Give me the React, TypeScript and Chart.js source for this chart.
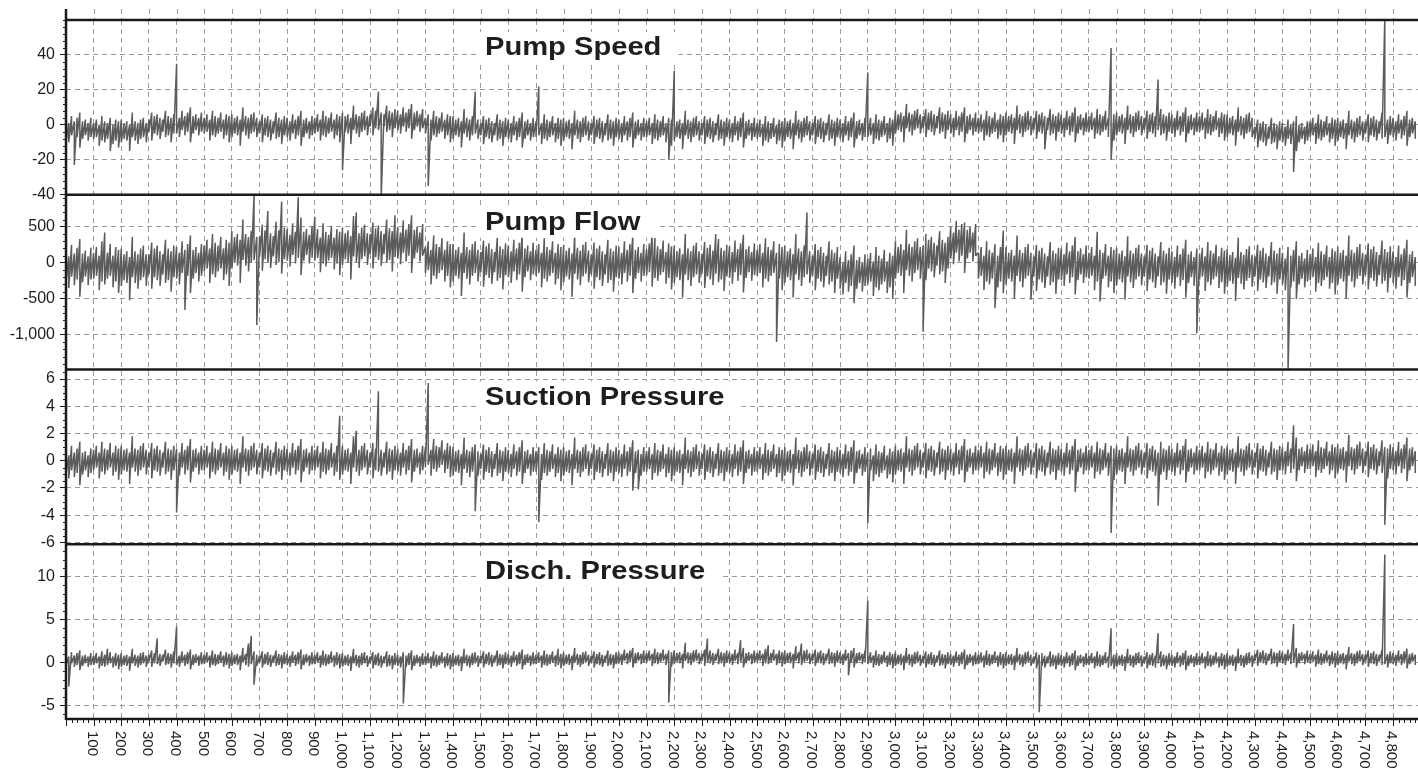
import { useEffect, useRef } from 'react';
import { Chart, registerables } from 'chart.js';

Chart.register(...registerables);

// Readings are summarised per 10-count bin: highest and lowest value seen in the bin.
const BIN_STEP = 10;

const panelTitles = ['Pump Speed', 'Pump Flow', 'Suction Pressure', 'Disch. Pressure'];

const xTickLabels = [
  100, 200, 300, 400, 500, 600, 700, 800, 900, 1000, 1100, 1200, 1300, 1400, 1500, 1600,
  1700, 1800, 1900, 2000, 2100, 2200, 2300, 2400, 2500, 2600, 2700, 2800, 2900, 3000, 3100, 3200,
  3300, 3400, 3500, 3600, 3700, 3800, 3900, 4000, 4100, 4200, 4300, 4400, 4500, 4600, 4700, 4800,
];

const speedTicks = [-40, -20, 0, 20, 40];
const flowTicks = [-1000, -500, 0, 500];
const suctionTicks = [-6, -4, -2, 0, 2, 4, 6];
const dischTicks = [-5, 0, 5, 10];

const speedHigh = [
  3, 1, 5, 2, 4, 7, 2, 3, 1, 4, 1, 3, 0, 5, 2, 1, 4, 0, 3, 2,
  3, 1, 2, 0, 7, 2, 1, 3, 4, 1, 3, 7, 5, 6, 4, 3, 8, 5, 4, 6,
  35, 4, 8, 5, 7, 10, 5, 6, 4, 7, 4, 6, 3, 8, 5, 4, 7, 3, 6, 5,
  6, 4, 5, 3, 10, 5, 4, 6, 7, 4, 2, 6, 4, 5, 3, 2, 7, 4, 3, 5,
  4, 2, 6, 3, 5, 8, 3, 4, 2, 5, 4, 6, 3, 8, 5, 4, 7, 3, 6, 5,
  7, 5, 6, 4, 11, 6, 5, 7, 8, 5, 6, 10, 8, 19, 7, 6, 11, 8, 7, 9,
  8, 6, 10, 7, 9, 12, 7, 8, 6, 9, 4, 6, 3, 8, 5, 4, 7, 3, 6, 5,
  5, 3, 4, 2, 9, 4, 3, 5, 19, 3, 1, 5, 3, 4, 2, 1, 6, 3, 2, 4,
  3, 1, 5, 2, 4, 7, 2, 3, 1, 4, 2, 22, 1, 6, 3, 2, 5, 1, 4, 3,
  4, 2, 3, 1, 8, 3, 2, 4, 5, 2, 1, 5, 3, 4, 2, 1, 6, 3, 2, 4,
  3, 1, 5, 2, 4, 7, 2, 3, 1, 4, 2, 4, 1, 6, 3, 2, 5, 1, 4, 3,
  31, 2, 3, 1, 8, 3, 2, 4, 5, 2, 1, 5, 3, 4, 2, 1, 6, 3, 2, 4,
  3, 1, 5, 2, 4, 7, 2, 3, 1, 4, 1, 3, 0, 5, 2, 1, 4, 0, 3, 2,
  4, 2, 3, 1, 8, 3, 2, 4, 5, 2, 1, 5, 3, 4, 2, 1, 6, 3, 2, 4,
  3, 1, 5, 2, 4, 7, 2, 3, 1, 4, 30, 4, 1, 6, 3, 2, 5, 1, 4, 3,
  8, 6, 7, 5, 12, 7, 6, 8, 9, 6, 5, 9, 7, 8, 6, 5, 10, 7, 6, 8,
  6, 4, 8, 5, 7, 10, 5, 6, 4, 7, 4, 6, 3, 8, 5, 4, 7, 3, 6, 5,
  7, 5, 6, 4, 11, 6, 5, 7, 8, 5, 4, 8, 6, 7, 5, 4, 9, 6, 5, 7,
  6, 4, 8, 5, 7, 10, 5, 6, 4, 7, 5, 7, 4, 9, 6, 5, 8, 4, 44, 6,
  7, 5, 6, 4, 11, 6, 5, 7, 8, 5, 4, 8, 6, 7, 5, 26, 9, 6, 5, 7,
  6, 4, 8, 5, 7, 10, 5, 6, 4, 7, 5, 7, 4, 9, 6, 5, 8, 4, 7, 6,
  6, 4, 5, 3, 10, 5, 4, 6, 7, 4, -1, 3, 1, 2, 0, -1, 4, 1, 0, 2,
  1, -1, 3, 0, 2, 5, 0, 1, -1, 2, 2, 4, 1, 6, 3, 2, 5, 1, 4, 3,
  4, 2, 3, 1, 8, 3, 2, 4, 5, 2, 2, 6, 4, 5, 3, 2, 7, 62, 3, 5,
  4, 2, 6, 3, 5, 8, 3, 4, 2,
];

const speedLow = [
  -10, -10, -6, -23, -7, -13, -8, -6, -9, -7, -8, -7, -12, -9, -10, -8, -15, -11, -9, -13,
  -10, -8, -9, -15, -7, -9, -11, -8, -7, -10, -4, -9, -5, -6, -8, -4, -7, -6, -10, -5,
  -5, -7, -3, -6, -4, -10, -5, -3, -6, -4, -5, -4, -9, -6, -7, -5, -4, -8, -6, -10,
  -7, -5, -6, -12, -4, -6, -8, -5, -4, -7, -5, -10, -6, -7, -9, -5, -8, -7, -11, -6,
  -7, -9, -5, -8, -6, -12, -7, -5, -8, -6, -5, -4, -9, -6, -7, -5, -4, -8, -6, -10,
  -26, -4, -5, -11, -3, -5, -7, -4, -3, -6, -1, -6, -2, -3, -42, -1, -4, -3, -7, -2,
  -3, -5, -1, -4, -2, -8, -3, -1, -4, -2, -5, -35, -9, -6, -7, -5, -4, -8, -6, -10,
  -8, -6, -7, -13, -5, -7, -9, -6, -5, -8, -6, -11, -7, -8, -10, -6, -9, -8, -12, -7,
  -8, -10, -6, -9, -7, -13, -8, -6, -9, -7, -7, -6, -11, -8, -9, -7, -6, -10, -8, -12,
  -9, -7, -8, -14, -6, -8, -10, -7, -6, -9, -6, -11, -7, -8, -10, -6, -9, -8, -12, -7,
  -8, -10, -6, -9, -7, -13, -8, -6, -9, -7, -7, -6, -11, -8, -9, -7, -6, -10, -20, -12,
  -9, -7, -8, -14, -6, -8, -10, -7, -6, -9, -6, -11, -7, -8, -10, -6, -9, -8, -12, -7,
  -8, -10, -6, -9, -7, -13, -8, -6, -9, -7, -8, -7, -12, -9, -10, -8, -7, -11, -9, -13,
  -9, -7, -8, -14, -6, -8, -10, -7, -6, -9, -6, -11, -7, -8, -10, -6, -9, -8, -12, -7,
  -8, -10, -6, -9, -7, -13, -8, -6, -9, -7, -7, -6, -11, -8, -9, -7, -6, -10, -8, -12,
  -5, -3, -4, -10, -2, -4, -6, -3, -2, -5, -2, -7, -3, -4, -6, -2, -5, -4, -8, -3,
  -5, -7, -3, -6, -4, -10, -5, -3, -6, -4, -5, -4, -9, -6, -7, -5, -4, -8, -6, -10,
  -6, -4, -5, -11, -3, -5, -7, -4, -3, -6, -3, -8, -4, -5, -14, -3, -6, -5, -9, -4,
  -5, -7, -3, -6, -4, -10, -5, -3, -6, -4, -4, -3, -8, -5, -6, -4, -3, -7, -20, -9,
  -6, -4, -5, -11, -3, -5, -7, -4, -3, -6, -3, -8, -4, -5, -7, -3, -6, -5, -9, -4,
  -5, -7, -3, -6, -4, -10, -5, -3, -6, -4, -4, -3, -8, -5, -6, -4, -3, -7, -5, -9,
  -7, -5, -6, -12, -4, -6, -8, -5, -4, -7, -8, -13, -9, -10, -12, -8, -11, -10, -14, -9,
  -10, -12, -8, -11, -27, -15, -10, -8, -11, -9, -7, -6, -11, -8, -9, -7, -6, -10, -8, -12,
  -9, -7, -8, -14, -6, -8, -10, -7, -6, -9, -5, -10, -6, -7, -9, -5, -8, -7, -11, -6,
  -7, -9, -5, -8, -6, -12, -7, -5, -8,
];

const flowHigh = [
  170, 90, 250, 130, 210, 330, 130, 170, 90, 210, 140, 220, 100, 300, 420, 140, 260, 100, 220, 180,
  200, 120, 160, 80, 360, 160, 120, 200, 240, 120, 120, 280, 200, 240, 160, 120, 320, 200, 160, 240,
  220, 140, 300, 180, 260, 380, 180, 220, 140, 260, 240, 320, 200, 400, 280, 240, 360, 200, 320, 280,
  440, 360, 400, 320, 600, 400, 360, 440, 930, 360, 370, 530, 450, 720, 410, 370, 570, 450, 850, 490,
  470, 390, 550, 430, 910, 630, 430, 470, 390, 510, 640, 470, 350, 550, 430, 390, 510, 350, 470, 430,
  490, 410, 450, 370, 650, 700, 410, 490, 530, 410, 400, 560, 480, 520, 440, 400, 600, 480, 440, 660,
  500, 420, 590, 460, 540, 660, 460, 500, 420, 540, 220, 300, 180, 380, 260, 220, 340, 180, 300, 260,
  260, 180, 220, 140, 420, 220, 180, 260, 300, 180, 150, 310, 230, 270, 190, 150, 350, 230, 190, 270,
  240, 160, 320, 200, 280, 400, 200, 240, 160, 280, 180, 260, 140, 340, 220, 180, 300, 140, 260, 220,
  250, 170, 210, 130, 410, 210, 170, 250, 290, 170, 120, 280, 200, 240, 160, 120, 320, 200, 160, 240,
  220, 140, 300, 180, 260, 380, 180, 220, 140, 260, 190, 270, 420, 350, 230, 190, 310, 150, 270, 230,
  240, 160, 200, 120, 400, 200, 160, 240, 280, 160, 130, 290, 210, 250, 170, 400, 330, 210, 170, 250,
  230, 150, 310, 190, 270, 390, 190, 230, 150, 270, 180, 260, 140, 340, 220, 180, 300, 140, 260, 220,
  240, 160, 200, 120, 400, 200, 160, 240, 700, 160, 100, 260, 180, 220, 140, 100, 300, 180, 140, 220,
  80, 0, 160, 40, 120, 240, 40, 80, 0, 120, 60, 140, 20, 220, 100, 60, 180, 20, 140, 100,
  300, 220, 260, 180, 460, 260, 220, 300, 340, 220, 240, 400, 320, 360, 280, 240, 440, 320, 280, 360,
  500, 420, 580, 460, 540, 560, 460, 500, 420, 540, 140, 220, 100, 300, 180, 140, 260, 100, 220, 450,
  220, 140, 180, 100, 380, 180, 140, 220, 260, 140, 90, 250, 170, 210, 130, 90, 290, 170, 130, 210,
  200, 120, 280, 160, 240, 360, 160, 200, 120, 240, 140, 220, 100, 431, 180, 140, 260, 100, 220, 180,
  210, 130, 170, 90, 370, 170, 130, 210, 250, 130, 90, 250, 170, 210, 130, 90, 290, 170, 130, 210,
  160, 80, 240, 120, 200, 320, 120, 160, 80, 200, 130, 210, 90, 290, 170, 130, 250, 90, 210, 170,
  190, 110, 150, 70, 350, 150, 110, 190, 230, 110, 90, 250, 170, 210, 130, 90, 290, 170, 130, 210,
  140, 60, 220, 100, 180, 300, 100, 140, 60, 180, 120, 200, 80, 280, 160, 120, 240, 80, 200, 160,
  220, 140, 180, 100, 380, 180, 140, 220, 260, 140, 110, 270, 190, 230, 150, 110, 310, 190, 150, 230,
  160, 80, 240, 120, 200, 320, 120, 160, 80,
];

const flowLow = [
  -270, -350, -190, -310, -230, -470, -270, -190, -310, -230, -220, -180, -380, -260, -300, -220, -180, -340, -260, -420,
  -320, -240, -280, -520, -200, -280, -360, -240, -200, -320, -160, -360, -200, -240, -320, -160, -280, -240, -400, -200,
  -220, -300, -140, -654, -180, -420, -220, -140, -260, -180, -120, -80, -280, -160, -200, -120, -80, -240, -160, -320,
  -80, 0, -40, -280, 40, -40, -120, 0, 40, -864, 90, -110, 50, 10, -70, 90, -30, 10, -150, 50,
  30, -50, 110, -10, 70, -170, 30, 110, -10, 70, 30, 70, -130, -10, -50, 30, 70, -90, -10, -170,
  -30, 50, 10, -230, 90, 10, -70, 50, 90, -30, 120, -80, 80, 40, -40, 120, 0, 40, -120, 80,
  60, -20, 140, 20, 100, -140, 60, 140, 20, 100, -140, -100, -300, -180, -220, -140, -100, -260, -180, -340,
  -260, -180, -220, -460, -140, -220, -300, -180, -140, -260, -130, -330, -170, -210, -290, -130, -250, -210, -370, -170,
  -200, -280, -120, -240, -160, -400, -200, -120, -240, -160, -180, -140, -340, -220, -260, -180, -140, -300, -220, -380,
  -270, -190, -230, -470, -150, -230, -310, -190, -150, -270, -160, -360, -200, -240, -320, -160, -280, -240, -400, -200,
  -220, -300, -140, -260, -180, -420, -220, -140, -260, -180, -170, -130, -330, -210, -250, -170, -130, -290, -210, -370,
  -280, -200, -240, -480, -160, -240, -320, -200, -160, -280, -150, -350, -190, -230, -310, -150, -270, -230, -390, -190,
  -210, -290, -130, -250, -170, -410, -210, -130, -250, -170, -180, -140, -340, -220, -260, -180, -140, -1098, -220, -380,
  -280, -200, -240, -480, -160, -240, -320, -200, -160, -280, -180, -380, -220, -260, -340, -180, -300, -260, -420, -220,
  -360, -440, -280, -400, -320, -560, -360, -280, -400, -320, -300, -260, -460, -340, -380, -300, -260, -420, -340, -500,
  -220, -140, -180, -420, -100, -180, -260, -140, -100, -220, -957, -240, -80, -120, -200, -40, -160, -120, -280, -80,
  60, -20, 140, 20, 100, -140, 60, 140, 20, 100, -220, -180, -380, -260, -300, -220, -630, -340, -260, -420,
  -300, -220, -260, -500, -180, -260, -340, -220, -180, -513, -190, -390, -230, -270, -350, -190, -310, -270, -430, -230,
  -240, -320, -160, -280, -200, -440, -240, -160, -280, -200, -220, -180, -380, -260, -537, -220, -180, -340, -260, -420,
  -310, -230, -270, -510, -190, -270, -350, -230, -190, -310, -190, -390, -230, -270, -350, -190, -310, -270, -430, -230,
  -280, -360, -200, -320, -240, -480, -280, -200, -320, -980, -230, -190, -390, -270, -310, -230, -190, -350, -270, -430,
  -330, -250, -290, -530, -210, -290, -370, -250, -210, -330, -190, -390, -230, -270, -350, -190, -310, -270, -430, -230,
  -300, -380, -1500, -340, -260, -500, -300, -220, -340, -260, -240, -200, -400, -280, -320, -240, -200, -360, -280, -440,
  -300, -220, -260, -500, -180, -260, -340, -220, -180, -300, -170, -370, -210, -250, -330, -170, -290, -250, -410, -210,
  -280, -360, -200, -320, -240, -480, -280, -200, -320,
];

const suctionHigh = [
  0.7, 0.4, 1.1, 0.6, 0.9, 1.4, 0.6, 0.7, 0.4, 0.9, 0.8, 1.1, 0.6, 1.4, 0.9, 0.8, 1.3, 0.6, 1.1, 0.9,
  1.1, 0.8, 0.9, 0.6, 1.8, 0.9, 0.8, 1.1, 1.3, 0.8, 0.6, 1.3, 0.9, 1.1, 0.8, 0.6, 1.4, 0.9, 0.8, 1.1,
  0.9, 0.6, 1.3, 0.8, 1.1, 1.6, 0.8, 0.9, 0.6, 1.1, 0.8, 1.1, 0.6, 1.4, 0.9, 0.8, 1.3, 0.6, 1.1, 0.9,
  1.1, 0.8, 0.9, 0.6, 1.8, 0.9, 0.8, 1.1, 1.3, 0.8, 0.6, 1.3, 0.9, 1.1, 0.8, 0.6, 1.4, 0.9, 0.8, 1.1,
  0.9, 0.6, 1.3, 0.8, 1.1, 1.6, 0.8, 0.9, 0.6, 1.1, 0.8, 1.1, 0.6, 1.4, 0.9, 0.8, 1.3, 0.6, 1.1, 3.3,
  1.1, 0.8, 0.9, 0.6, 1.8, 2.2, 0.8, 1.1, 1.3, 0.8, 0.6, 1.3, 0.9, 5.1, 0.8, 0.6, 1.4, 0.9, 0.8, 1.1,
  0.9, 0.6, 1.3, 0.8, 1.1, 1.6, 0.8, 0.9, 0.6, 1.1, 1.0, 5.7, 0.8, 1.6, 1.1, 1.0, 1.5, 0.8, 1.3, 1.1,
  1.0, 0.7, 0.8, 0.5, 1.7, 0.8, 0.7, 1.0, 1.2, 0.7, 0.5, 1.2, 0.8, 1.0, 0.7, 0.5, 1.3, 0.8, 0.7, 1.0,
  0.8, 0.5, 1.2, 0.7, 1.0, 1.5, 0.7, 0.8, 0.5, 1.0, 0.7, 1.0, 0.5, 1.3, 0.8, 0.7, 1.2, 0.5, 1.0, 0.8,
  1.0, 0.7, 0.8, 0.5, 1.7, 0.8, 0.7, 1.0, 1.2, 0.7, 0.5, 1.2, 0.8, 1.0, 0.7, 0.5, 1.3, 0.8, 0.7, 1.0,
  0.8, 0.5, 1.2, 0.7, 1.0, 1.5, 0.7, 0.8, 0.5, 1.0, 0.7, 1.0, 0.5, 1.3, 0.8, 0.7, 1.2, 0.5, 1.0, 0.8,
  1.0, 0.7, 0.8, 0.5, 1.7, 0.8, 0.7, 1.0, 1.2, 0.7, 0.5, 1.2, 0.8, 1.0, 0.7, 0.5, 1.3, 0.8, 0.7, 1.0,
  0.8, 0.5, 1.2, 0.7, 1.0, 1.5, 0.7, 0.8, 0.5, 1.0, 0.7, 1.0, 0.5, 1.3, 0.8, 0.7, 1.2, 0.5, 1.0, 0.8,
  1.0, 0.7, 0.8, 0.5, 1.7, 0.8, 0.7, 1.0, 1.2, 0.7, 0.5, 1.2, 0.8, 1.0, 0.7, 0.5, 1.3, 0.8, 0.7, 1.0,
  0.8, 0.5, 1.2, 0.7, 1.0, 1.5, 0.7, 0.8, 0.5, 1.0, 0.6, 0.9, 0.4, 1.2, 0.7, 0.6, 1.1, 0.4, 0.9, 0.7,
  1.1, 0.8, 0.9, 0.6, 1.8, 0.9, 0.8, 1.1, 1.3, 0.8, 0.6, 1.3, 0.9, 1.1, 0.8, 0.6, 1.4, 0.9, 0.8, 1.1,
  0.9, 0.6, 1.3, 0.8, 1.1, 1.6, 0.8, 0.9, 0.6, 1.1, 0.8, 1.1, 0.6, 1.4, 0.9, 0.8, 1.3, 0.6, 1.1, 0.9,
  1.1, 0.8, 0.9, 0.6, 1.8, 0.9, 0.8, 1.1, 1.3, 0.8, 0.6, 1.3, 0.9, 1.1, 0.8, 0.6, 1.4, 0.9, 0.8, 1.1,
  0.9, 0.6, 1.3, 0.8, 1.1, 1.6, 0.8, 0.9, 0.6, 1.1, 0.8, 1.1, 0.6, 1.4, 0.9, 0.8, 1.3, 0.6, 1.1, 0.9,
  1.1, 0.8, 0.9, 0.6, 1.8, 0.9, 0.8, 1.1, 1.3, 0.8, 0.6, 1.3, 0.9, 1.1, 0.8, 0.6, 1.4, 0.9, 0.8, 1.1,
  0.9, 0.6, 1.3, 0.8, 1.1, 1.6, 0.8, 0.9, 0.6, 1.1, 0.8, 1.1, 0.6, 1.4, 0.9, 0.8, 1.3, 0.6, 1.1, 0.9,
  1.1, 0.8, 0.9, 0.6, 1.8, 0.9, 0.8, 1.1, 1.3, 0.8, 0.6, 1.3, 0.9, 1.1, 0.8, 0.6, 1.4, 0.9, 0.8, 1.1,
  1.0, 0.7, 1.4, 0.9, 2.6, 1.7, 0.9, 1.0, 0.7, 1.2, 0.9, 1.2, 0.7, 1.5, 1.0, 0.9, 1.4, 0.7, 1.2, 1.0,
  1.2, 0.9, 1.0, 0.7, 1.9, 1.0, 0.9, 1.2, 1.4, 0.9, 0.7, 1.4, 1.0, 1.2, 0.9, 0.7, 1.5, 1.0, 0.9, 1.2,
  1.0, 0.7, 1.4, 0.9, 1.2, 1.7, 0.9, 1.0, 0.7,
];

const suctionLow = [
  -1.0, -1.3, -0.7, -1.2, -0.9, -1.8, -1.0, -0.7, -1.2, -0.9, -0.7, -0.5, -1.3, -0.8, -1.0, -0.7, -0.5, -1.1, -0.8, -1.4,
  -1.0, -0.7, -0.8, -1.7, -0.5, -0.8, -1.1, -0.7, -0.5, -1.0, -0.5, -1.3, -0.7, -0.8, -1.1, -0.5, -1.0, -0.8, -1.4, -0.7,
  -3.8, -1.1, -0.5, -1.0, -0.7, -1.6, -0.8, -0.5, -1.0, -0.7, -0.7, -0.5, -1.3, -0.8, -1.0, -0.7, -0.5, -1.1, -0.8, -1.4,
  -1.0, -0.7, -0.8, -1.7, -0.5, -0.8, -1.1, -0.7, -0.5, -1.0, -0.5, -1.3, -0.7, -0.8, -1.1, -0.5, -1.0, -0.8, -1.4, -0.7,
  -0.8, -1.1, -0.5, -1.0, -0.7, -1.6, -0.8, -0.5, -1.0, -0.7, -0.7, -0.5, -1.3, -0.8, -1.0, -0.7, -0.5, -1.1, -0.8, -1.4,
  -1.0, -0.7, -0.8, -1.7, -0.5, -0.8, -1.1, -0.7, -0.5, -1.0, -0.5, -1.3, -0.7, -0.8, -1.1, -0.5, -1.0, -0.8, -1.4, -0.7,
  -0.8, -1.1, -0.5, -1.0, -0.7, -1.6, -0.8, -0.5, -1.0, -0.7, -0.5, -0.3, -1.1, -0.6, -0.8, -0.5, -0.3, -0.9, -0.6, -1.2,
  -1.1, -0.8, -0.9, -1.8, -0.6, -0.9, -1.2, -0.8, -3.7, -1.1, -0.6, -1.4, -0.8, -0.9, -1.2, -0.6, -1.1, -0.9, -1.5, -0.8,
  -0.9, -1.2, -0.6, -1.1, -0.8, -1.7, -0.9, -0.6, -1.1, -0.8, -0.8, -4.5, -1.4, -0.9, -1.1, -0.8, -0.6, -1.2, -0.9, -1.5,
  -1.1, -0.8, -0.9, -1.8, -0.6, -0.9, -1.2, -0.8, -0.6, -1.1, -0.6, -1.4, -0.8, -0.9, -1.2, -0.6, -1.1, -0.9, -1.5, -0.8,
  -0.9, -1.2, -0.6, -1.1, -0.8, -2.2, -0.9, -2.1, -1.1, -0.8, -0.8, -0.6, -1.4, -0.9, -1.1, -0.8, -0.6, -1.2, -0.9, -1.5,
  -1.1, -0.8, -0.9, -1.8, -0.6, -0.9, -1.2, -0.8, -0.6, -1.1, -0.6, -1.4, -0.8, -0.9, -1.2, -0.6, -1.1, -0.9, -1.5, -0.8,
  -0.9, -1.2, -0.6, -1.1, -0.8, -1.7, -0.9, -0.6, -1.1, -0.8, -0.8, -0.6, -1.4, -0.9, -1.1, -0.8, -0.6, -1.2, -0.9, -1.5,
  -1.1, -0.8, -0.9, -1.8, -0.6, -0.9, -1.2, -0.8, -0.6, -1.1, -0.6, -1.4, -0.8, -0.9, -1.2, -0.6, -1.1, -0.9, -1.5, -0.8,
  -0.9, -1.2, -0.6, -1.1, -0.8, -1.7, -0.9, -0.6, -1.1, -0.8, -4.6, -0.7, -1.5, -1.0, -1.2, -0.9, -0.7, -1.3, -1.0, -1.6,
  -1.0, -0.7, -0.8, -1.7, -0.5, -0.8, -1.1, -0.7, -0.5, -1.0, -0.5, -1.3, -0.7, -0.8, -1.1, -0.5, -1.0, -0.8, -1.4, -0.7,
  -0.8, -1.1, -0.5, -1.0, -0.7, -1.6, -0.8, -0.5, -1.0, -0.7, -0.7, -0.5, -1.3, -0.8, -1.0, -0.7, -0.5, -1.1, -0.8, -1.4,
  -1.0, -0.7, -0.8, -1.7, -0.5, -0.8, -1.1, -0.7, -0.5, -1.0, -0.5, -1.3, -0.7, -0.8, -1.1, -0.5, -1.0, -0.8, -1.4, -0.7,
  -0.8, -1.1, -0.5, -1.0, -0.7, -2.3, -0.8, -0.5, -1.0, -0.7, -0.7, -0.5, -1.3, -0.8, -1.0, -0.7, -0.5, -1.1, -5.3, -1.4,
  -1.0, -0.7, -0.8, -1.7, -0.5, -0.8, -1.1, -0.7, -0.5, -1.0, -0.5, -1.3, -0.7, -0.8, -1.1, -3.3, -1.0, -0.8, -1.4, -0.7,
  -0.8, -1.1, -0.5, -1.0, -0.7, -1.6, -0.8, -0.5, -1.0, -0.7, -0.7, -0.5, -1.3, -0.8, -1.0, -0.7, -0.5, -1.1, -0.8, -1.4,
  -1.0, -0.7, -0.8, -1.7, -0.5, -0.8, -1.1, -0.7, -0.5, -1.0, -0.5, -1.3, -0.7, -0.8, -1.1, -0.5, -1.0, -0.8, -1.4, -0.7,
  -0.7, -1.0, -0.4, -0.9, -0.6, -1.5, -0.7, -0.4, -0.9, -0.6, -0.6, -0.4, -1.2, -0.7, -0.9, -0.6, -0.4, -1.0, -0.7, -1.3,
  -0.9, -0.6, -0.7, -1.6, -0.4, -0.7, -1.0, -0.6, -0.4, -0.9, -0.4, -1.2, -0.6, -0.7, -1.0, -0.4, -0.9, -4.7, -1.3, -0.6,
  -0.7, -1.0, -0.4, -0.9, -0.6, -1.5, -0.7, -0.4, -0.9,
];

const dischHigh = [
  0.9, 0.7, 1.2, 0.8, 1.1, 1.4, 0.8, 0.9, 0.7, 1.1, 0.8, 1.1, 0.7, 1.3, 0.9, 1.6, 1.2, 0.7, 1.1, 0.9,
  1.1, 0.8, 0.9, 0.7, 1.6, 0.9, 0.8, 1.1, 1.2, 0.8, 0.9, 1.4, 1.1, 2.8, 1.0, 0.9, 1.5, 1.1, 1.0, 1.3,
  4.2, 0.8, 1.3, 0.9, 1.2, 1.5, 0.9, 1.0, 0.8, 1.2, 0.9, 1.2, 0.8, 1.4, 1.0, 0.9, 1.3, 0.8, 1.2, 1.0,
  1.2, 0.9, 1.0, 0.8, 1.7, 1.0, 2.2, 3.1, 1.3, 0.9, 0.8, 1.3, 1.0, 1.2, 0.9, 0.8, 1.4, 1.0, 0.9, 1.2,
  1.0, 0.8, 1.3, 0.9, 1.2, 1.5, 0.9, 1.0, 0.8, 1.2, 0.9, 1.2, 0.8, 1.4, 1.0, 0.9, 1.3, 0.8, 1.2, 1.0,
  1.1, 0.8, 0.9, 0.7, 1.6, 0.9, 0.8, 1.1, 1.2, 0.8, 0.7, 1.2, 0.9, 1.1, 0.8, 0.7, 1.3, 0.9, 0.8, 1.1,
  0.9, 0.7, 1.2, 0.8, 1.1, 1.4, 0.8, 0.9, 0.7, 1.1, 0.8, 1.1, 0.7, 1.3, 0.9, 0.8, 1.2, 0.7, 1.1, 0.9,
  1.1, 0.8, 0.9, 0.7, 1.6, 0.9, 0.8, 1.1, 1.2, 0.8, 0.8, 1.3, 1.0, 1.2, 0.9, 0.8, 1.4, 1.0, 0.9, 1.2,
  1.0, 0.8, 1.3, 0.9, 1.2, 1.5, 0.9, 1.0, 0.8, 1.2, 0.9, 1.2, 0.8, 1.4, 1.0, 0.9, 1.3, 0.8, 1.6, 1.0,
  1.2, 0.9, 1.0, 0.8, 1.7, 1.0, 0.9, 1.2, 1.3, 0.9, 0.8, 1.3, 1.0, 1.2, 0.9, 0.8, 1.4, 1.0, 0.9, 1.2,
  1.2, 1.0, 1.5, 1.1, 1.4, 1.7, 1.1, 1.2, 1.0, 1.4, 1.1, 1.4, 1.0, 1.6, 1.2, 1.1, 1.5, 1.0, 1.4, 1.2,
  1.4, 1.1, 1.2, 1.0, 2.3, 1.2, 1.1, 1.4, 1.5, 1.1, 1.0, 1.5, 2.8, 1.4, 1.1, 1.0, 1.6, 1.2, 1.1, 1.4,
  1.2, 1.0, 1.5, 1.1, 2.6, 1.7, 1.1, 1.2, 1.0, 1.4, 1.1, 1.4, 1.0, 1.6, 2.0, 1.1, 1.5, 1.0, 1.4, 1.2,
  1.4, 1.1, 1.2, 1.0, 1.9, 1.2, 2.2, 1.4, 1.5, 1.1, 1.0, 1.5, 1.2, 1.4, 1.1, 1.0, 1.6, 1.2, 1.1, 1.4,
  1.2, 1.0, 1.5, 1.1, 1.4, 1.7, 1.1, 1.2, 1.0, 1.4, 7.2, 1.2, 0.8, 1.4, 1.0, 0.9, 1.3, 0.8, 1.2, 1.0,
  1.2, 0.9, 1.0, 0.8, 1.7, 1.0, 0.9, 1.2, 1.3, 0.9, 0.8, 1.3, 1.0, 1.2, 0.9, 0.8, 1.4, 1.0, 0.9, 1.2,
  1.0, 0.8, 1.3, 0.9, 1.2, 1.5, 0.9, 1.0, 0.8, 1.2, 0.9, 1.2, 0.8, 1.4, 1.0, 0.9, 1.3, 0.8, 1.2, 1.0,
  1.2, 0.9, 1.0, 0.8, 1.7, 1.0, 0.9, 1.2, 1.3, 0.9, 0.7, 1.2, 0.9, 1.1, 0.8, 0.7, 1.3, 0.9, 0.8, 1.1,
  0.9, 0.7, 1.2, 0.8, 1.1, 1.4, 0.8, 0.9, 0.7, 1.1, 0.8, 1.1, 0.7, 1.3, 0.9, 0.8, 1.2, 0.7, 4.0, 0.9,
  1.1, 0.8, 0.9, 0.7, 1.6, 0.9, 0.8, 1.1, 1.2, 0.8, 0.7, 1.2, 0.9, 1.1, 0.8, 3.4, 1.3, 0.9, 0.8, 1.1,
  0.9, 0.7, 1.2, 0.8, 1.1, 1.4, 0.8, 0.9, 0.7, 1.1, 0.8, 1.1, 0.7, 1.3, 0.9, 0.8, 1.2, 0.7, 1.1, 0.9,
  1.1, 0.8, 0.9, 0.7, 1.6, 0.9, 0.8, 1.1, 1.2, 0.8, 1.0, 1.5, 1.2, 1.4, 1.1, 1.0, 1.6, 1.2, 1.1, 1.4,
  1.2, 1.0, 1.5, 1.1, 4.5, 1.7, 1.1, 1.2, 1.0, 1.4, 1.0, 1.3, 0.9, 1.5, 1.1, 1.0, 1.4, 0.9, 1.3, 1.1,
  1.3, 1.0, 1.1, 0.9, 1.8, 1.1, 1.0, 1.3, 1.4, 1.0, 0.9, 1.4, 1.1, 1.3, 1.0, 0.9, 1.5, 12.6, 1.0, 1.3,
  1.1, 0.9, 1.4, 1.0, 1.3, 1.6, 1.0, 1.1, 0.9,
];

const dischLow = [
  -0.4, -2.8, -0.1, -0.5, -0.3, -0.9, -0.4, -0.1, -0.5, -0.3, -0.3, -0.1, -0.7, -0.4, -0.5, -0.3, -0.1, -0.6, -0.4, -0.8,
  -0.5, -0.3, -0.4, -1.0, -0.1, -0.4, -0.6, -0.3, -0.1, -0.5, 0.1, -0.5, -0.1, -0.2, -0.4, 0.1, -0.3, -0.2, -0.6, -0.1,
  -0.3, -0.5, 0.0, -0.4, -0.2, -0.8, -0.3, 0.0, -0.4, -0.2, -0.2, 0.0, -0.6, -0.3, -0.4, -0.2, 0.0, -0.5, -0.3, -0.7,
  -0.4, -0.2, -0.3, -0.9, 0.0, -0.3, -0.5, -0.2, -2.6, -0.4, 0.0, -0.6, -0.2, -0.3, -0.5, 0.0, -0.4, -0.3, -0.7, -0.2,
  -0.3, -0.5, 0.0, -0.4, -0.2, -0.8, -0.3, 0.0, -0.4, -0.2, -0.2, 0.0, -0.6, -0.3, -0.4, -0.2, 0.0, -0.5, -0.3, -0.7,
  -0.5, -0.3, -0.4, -1.0, -0.1, -0.4, -0.6, -0.3, -0.1, -0.5, -0.1, -0.7, -0.3, -0.4, -0.6, -0.1, -0.5, -0.4, -0.8, -0.3,
  -0.4, -0.6, -4.8, -0.5, -0.3, -0.9, -0.4, -0.1, -0.5, -0.3, -0.3, -0.1, -0.7, -0.4, -0.5, -0.3, -0.1, -0.6, -0.4, -0.8,
  -0.5, -0.3, -0.4, -1.0, -0.1, -0.4, -0.6, -0.3, -0.1, -0.5, 0.0, -0.6, -0.2, -0.3, -0.5, 0.0, -0.4, -0.3, -0.7, -0.2,
  -0.3, -0.5, 0.0, -0.4, -0.2, -0.8, -0.3, 0.0, -0.4, -0.2, -0.2, 0.0, -0.6, -0.3, -0.4, -0.2, 0.0, -0.5, -0.3, -0.7,
  -0.4, -0.2, -0.3, -0.9, 0.0, -0.3, -0.5, -0.2, 0.0, -0.4, 0.0, -0.6, -0.2, -0.3, -0.5, 0.0, -0.4, -0.3, -0.7, -0.2,
  -0.1, -0.3, 0.2, -0.2, 0.0, -0.6, -0.1, 0.2, -0.2, 0.0, 0.0, 0.2, -0.4, -0.1, -0.2, 0.0, 0.2, -0.3, -4.7, -0.5,
  -0.2, 0.0, -0.1, -0.7, 0.2, -0.1, -0.3, 0.0, 0.2, -0.2, 0.2, -0.4, 0.0, -0.1, -0.3, 0.2, -0.2, -0.1, -0.5, 0.0,
  -0.1, -0.3, 0.2, -0.2, 0.0, -0.6, -0.1, 0.2, -0.2, 0.0, 0.0, 0.2, -0.4, -0.1, -0.2, 0.0, 0.2, -0.3, -0.1, -0.5,
  -0.2, 0.0, -0.1, -0.7, 0.2, -0.1, -0.3, 0.0, 0.2, -0.2, 0.2, -0.4, 0.0, -0.1, -0.3, 0.2, -0.2, -0.1, -0.5, 0.0,
  -0.1, -0.3, 0.2, -1.5, 0.0, -0.6, -0.1, 0.2, -0.2, 0.0, -0.2, 0.0, -0.6, -0.3, -0.4, -0.2, 0.0, -0.5, -0.3, -0.7,
  -0.4, -0.2, -0.3, -0.9, 0.0, -0.3, -0.5, -0.2, 0.0, -0.4, 0.0, -0.6, -0.2, -0.3, -0.5, 0.0, -0.4, -0.3, -0.7, -0.2,
  -0.3, -0.5, 0.0, -0.4, -0.2, -0.8, -0.3, 0.0, -0.4, -0.2, -0.2, 0.0, -0.6, -0.3, -0.4, -0.2, 0.0, -0.5, -0.3, -0.7,
  -0.4, -0.2, -0.3, -0.9, 0.0, -0.3, -0.5, -0.2, 0.0, -0.4, -0.1, -0.7, -5.8, -0.4, -0.6, -0.1, -0.5, -0.4, -0.8, -0.3,
  -0.4, -0.6, -0.1, -0.5, -0.3, -0.9, -0.4, -0.1, -0.5, -0.3, -0.3, -0.1, -0.7, -0.4, -0.5, -0.3, -0.1, -0.6, -0.4, -0.8,
  -0.5, -0.3, -0.4, -1.0, -0.1, -0.4, -0.6, -0.3, -0.1, -0.5, -0.1, -0.7, -0.3, -0.4, -0.6, -0.1, -0.5, -0.4, -0.8, -0.3,
  -0.4, -0.6, -0.1, -0.5, -0.3, -0.9, -0.4, -0.1, -0.5, -0.3, -0.3, -0.1, -0.7, -0.4, -0.5, -0.3, -0.1, -0.6, -0.4, -0.8,
  -0.5, -0.3, -0.4, -1.0, -0.1, -0.4, -0.6, -0.3, -0.1, -0.5, 0.2, -0.4, 0.0, -0.1, -0.3, 0.2, -0.2, -0.1, -0.5, 0.0,
  -0.1, -0.3, 0.2, -0.2, 0.0, -0.6, -0.1, 0.2, -0.2, 0.0, -0.1, 0.1, -0.5, -0.2, -0.3, -0.1, 0.1, -0.4, -0.2, -0.6,
  -0.3, -0.1, -0.2, -0.8, 0.1, -0.2, -0.4, -0.1, 0.1, -0.3, 0.1, -0.5, -0.1, -0.2, -0.4, 0.1, -0.3, -0.2, -0.6, -0.1,
  -0.2, -0.4, 0.1, -0.3, -0.1, -0.7, -0.2, 0.1, -0.3,
];

// Axis setup for the four stacked panels (top to bottom).
const panels = [
  { id: 'ySpeed', title: panelTitles[0], high: speedHigh, low: speedLow, ticks: speedTicks, min: -40, max: 60, minor: 4, weight: 4 },
  { id: 'yFlow', title: panelTitles[1], high: flowHigh, low: flowLow, ticks: flowTicks, min: -1480, max: 945, minor: 100, weight: 3 },
  { id: 'ySuction', title: panelTitles[2], high: suctionHigh, low: suctionLow, ticks: suctionTicks, min: -6.13, max: 6.7, minor: 0.5, weight: 2 },
  { id: 'yDisch', title: panelTitles[3], high: dischHigh, low: dischLow, ticks: dischTicks, min: -6.6, max: 13.8, minor: 1, weight: 1 },
];

const X_MAX = 4890;
const TOP_STRIP = 9;
const GRID = '#9a9a9a';
const FRAME = '#1a1a1a';
const TEXT = '#1e1e1e';
const LINE = '#5c5c5c';
const FONT = '"Liberation Sans", Arial, Helvetica, sans-serif';
const TITLE_STRETCH = 1.12;

const fmt = (v: number) => Number(v).toLocaleString('en-US');

// Each bin becomes a vertical stroke from its high to its low reading,
// joined to the next bin's high.
const binPath = (high: number[], low: number[]) => {
  const pts: { x: number; y: number }[] = [];
  high.forEach((h, i) => {
    const x = i * BIN_STEP;
    pts.push({ x, y: h }, { x, y: low[i] });
  });
  return pts;
};

const framePlugin = {
  id: 'panelFrame',
  beforeDatasetDraw(chart: any, args: any) {
    const ys = args.meta.yScale;
    const a = chart.chartArea;
    const ctx = chart.ctx;
    ctx.save();
    ctx.beginPath();
    ctx.rect(a.left, ys.top, a.right - a.left, ys.bottom - ys.top);
    ctx.clip();
  },
  afterDatasetDraw(chart: any) {
    chart.ctx.restore();
  },
  afterDraw(chart: any) {
    const { ctx, chartArea: a, scales } = chart;
    const xs = scales.x;
    ctx.save();

    // vertical grid dashes continue above the first panel
    ctx.strokeStyle = GRID;
    ctx.lineWidth = 1;
    ctx.setLineDash([5, 4]);
    ctx.beginPath();
    for (const v of xTickLabels) {
      const px = Math.round(xs.getPixelForValue(v)) + 0.5;
      ctx.moveTo(px, TOP_STRIP);
      ctx.lineTo(px, a.top);
    }
    ctx.stroke();
    ctx.setLineDash([]);

    // panel titles on white label boxes
    ctx.font = `bold 26px ${FONT}`;
    ctx.textAlign = 'left';
    ctx.textBaseline = 'alphabetic';
    for (const p of panels) {
      const s = scales[p.id];
      const w = ctx.measureText(p.title).width * TITLE_STRETCH;
      const left = a.left + 419;
      const base = s.top + 35;
      ctx.fillStyle = '#ffffff';
      ctx.fillRect(left - 5, base - 23, w + 22, 31);
      ctx.save();
      ctx.translate(left, base);
      ctx.scale(TITLE_STRETCH, 1);
      ctx.fillStyle = TEXT;
      ctx.fillText(p.title, 0, 0);
      ctx.restore();
    }

    // minor ticks on both axes
    ctx.strokeStyle = FRAME;
    ctx.lineWidth = 1;
    ctx.beginPath();
    for (let k = 0; k * 20 <= X_MAX; k++) {
      const v = k * 20;
      const px = Math.round(xs.getPixelForValue(v)) + 0.5;
      const len = v % 100 === 0 ? 7 : 4;
      ctx.moveTo(px, a.bottom);
      ctx.lineTo(px, a.bottom + len);
    }
    for (const p of panels) {
      const s = scales[p.id];
      for (let k = Math.ceil(p.min / p.minor); k * p.minor <= p.max + 1e-9; k++) {
        const v = k * p.minor;
        if (p.ticks.some((t) => Math.abs(t - v) < 1e-9)) continue;
        const py = Math.round(s.getPixelForValue(v)) + 0.5;
        ctx.moveTo(a.left - 3, py);
        ctx.lineTo(a.left, py);
      }
    }
    ctx.stroke();

    // panel separators, bottom axis and left axis
    ctx.lineWidth = 2.5;
    ctx.beginPath();
    for (const p of panels) {
      const y = scales[p.id].top;
      ctx.moveTo(a.left, y);
      ctx.lineTo(a.right, y);
    }
    ctx.moveTo(a.left, a.bottom);
    ctx.lineTo(a.right, a.bottom);
    ctx.moveTo(a.left, TOP_STRIP);
    ctx.lineTo(a.left, a.bottom + 1);
    ctx.stroke();

    // x tick labels, turned a quarter clockwise
    ctx.fillStyle = TEXT;
    ctx.font = `15px ${FONT}`;
    ctx.textAlign = 'left';
    ctx.textBaseline = 'middle';
    for (const v of xTickLabels) {
      const px = xs.getPixelForValue(v);
      ctx.save();
      ctx.translate(px - 1.5, a.bottom + 12);
      ctx.rotate(Math.PI / 2);
      ctx.fillText(fmt(v), 0, 0);
      ctx.restore();
    }
    ctx.restore();
  },
};

export default function App() {
  const canvasRef = useRef<HTMLCanvasElement | null>(null);

  useEffect(() => {
    const canvas = canvasRef.current;
    if (!canvas) return;

    const yScales: any = {};
    for (const p of panels) {
      yScales[p.id] = {
        type: 'linear',
        position: 'left',
        stack: 'panels',
        stackWeight: 1,
        weight: p.weight,
        min: p.min,
        max: p.max,
        afterBuildTicks: (s: any) => {
          s.ticks = p.ticks.map((v) => ({ value: v }));
        },
        afterFit: (s: any) => {
          s.width = 66;
        },
        grid: {
          color: GRID,
          lineWidth: 1,
          drawTicks: true,
          tickLength: 6,
          tickColor: FRAME,
          tickWidth: 1,
          tickBorderDash: [],
        },
        border: { display: false, dash: [5, 4] },
        ticks: {
          color: TEXT,
          padding: 5,
          autoSkip: false,
          font: { family: FONT, size: 16 },
          callback: (v: any) => fmt(v),
        },
      };
    }

    const chart = new Chart(canvas, {
      type: 'line',
      data: {
        datasets: panels.map((p) => ({
          label: p.title,
          yAxisID: p.id,
          data: binPath(p.high, p.low),
          borderColor: LINE,
          borderWidth: 1.5,
          borderJoinStyle: 'bevel' as const,
          pointRadius: 0,
          tension: 0,
        })),
      },
      options: {
        responsive: false,
        devicePixelRatio: 1,
        animation: false,
        events: [],
        layout: { padding: { top: 20, left: 0, right: 0, bottom: 0 } },
        plugins: { legend: { display: false }, tooltip: { enabled: false } },
        scales: {
          x: {
            type: 'linear',
            position: 'bottom',
            min: 0,
            max: X_MAX,
            afterBuildTicks: (s: any) => {
              s.ticks = xTickLabels.map((v) => ({ value: v }));
            },
            afterFit: (s: any) => {
              s.height = 51;
            },
            grid: { color: GRID, lineWidth: 1, drawTicks: false },
            border: { display: false, dash: [5, 4] },
            ticks: { display: false },
          },
          ...yScales,
        },
      },
      plugins: [framePlugin],
    });

    return () => chart.destroy();
  }, []);

  return (
    <div style={{ position: 'fixed', left: 0, top: 0, width: 1418, height: 770, background: '#ffffff' }}>
      <canvas ref={canvasRef} width={1418} height={770} style={{ display: 'block' }} />
    </div>
  );
}
